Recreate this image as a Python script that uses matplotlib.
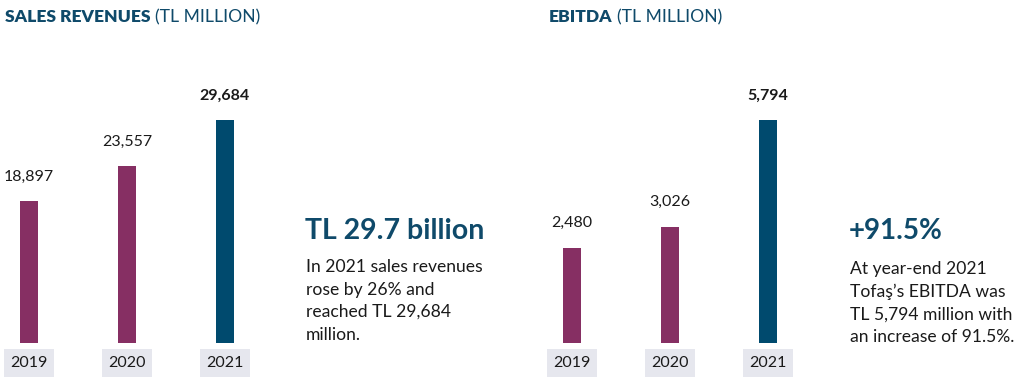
import matplotlib.pyplot as plt

years = ['2019', '2020', '2021']
sales = [18897, 23557, 29684]
ebitda = [2480, 3026, 5794]
sales_labels = ['18,897', '23,557', '29,684']
ebitda_labels = ['2,480', '3,026', '5,794']

PURPLE = '#862f63'
NAVY = '#004a6e'
TITLE = '#0f4a6a'
TXT = '#1a1a1a'
BOXGRAY = '#e6e7ee'

plt.rcParams['font.family'] = ['Lato', 'DejaVu Sans']

W, H = 1033, 378
fig = plt.figure(figsize=(W / 100, H / 100), dpi=100)

STEP = 98.0      # px between bars
BOTTOM = 343.0   # px from top where bars start
TOP_BAR = 120.0  # px from top of highest bar
AX_TOP = 40.0


def panel(x0, values, labels):
    # x0: pixel centre of first bar
    left_px = x0 - 0.4 * STEP
    width_px = 2.8 * STEP
    ax = fig.add_axes([left_px / W, (H - BOTTOM) / H, width_px / W, (BOTTOM - AX_TOP) / H])
    ymax = max(values) * (BOTTOM - AX_TOP) / (BOTTOM - TOP_BAR)
    ax.set_xlim(-0.4, 2.4)
    ax.set_ylim(0, ymax)
    colors = [PURPLE, PURPLE, NAVY]
    ax.bar(range(3), values, width=18 / STEP, color=colors)
    for i, (v, lab) in enumerate(zip(values, labels)):
        ax.annotate(lab, (i, v), xytext=(0, 12.5), textcoords='offset points',
                    ha='center', va='bottom', fontsize=11.5, color=TXT,
                    fontweight='bold' if i == 2 else 'normal')
        ax.annotate(years[i], (i, 0), xytext=(0, -14.5), textcoords='offset points',
                    ha='center', va='center', fontsize=11.5, color=TXT,
                    bbox=dict(boxstyle='square,pad=0.42', fc=BOXGRAY, ec='none'))
    ax.axis('off')
    return ax


def fx(px):
    return px / W


def fy(py):
    return 1 - py / H


panel(29, sales, sales_labels)
panel(572, ebitda, ebitda_labels)

# titles
t = fig.text(fx(5), fy(17), 'SALES REVENUES', fontsize=12.6, fontweight='heavy',
             color=TITLE, va='center', ha='left')
fig.canvas.draw()
bb = t.get_window_extent()
fig.text(bb.x1 / W + 0.004, fy(17), '(TL MILLION)', fontsize=12.6, color=TITLE,
         va='center', ha='left')

t2 = fig.text(fx(549), fy(17), 'EBITDA', fontsize=12.6, fontweight='heavy',
              color=TITLE, va='center', ha='left')
fig.canvas.draw()
bb2 = t2.get_window_extent()
fig.text(bb2.x1 / W + 0.004, fy(17), '(TL MILLION)', fontsize=12.6, color=TITLE,
         va='center', ha='left')

# highlight text
fig.text(fx(305), fy(231), 'TL 29.7 billion', fontsize=20.5, fontweight='bold',
         color=TITLE, va='center', ha='left')
fig.text(fx(306), fy(259), 'In 2021 sales revenues\nrose by 26% and\nreached TL 29,684\nmillion.',
         fontsize=12.6, color=TXT, va='top', ha='left', linespacing=1.5)

fig.text(fx(849), fy(231), '+91.5%', fontsize=20, fontweight='bold',
         color=TITLE, va='center', ha='left')
fig.text(fx(850), fy(261), 'At year-end 2021\nTofaş\u2019s EBITDA was\nTL 5,794 million with\nan increase of 91.5%.',
         fontsize=12.6, color=TXT, va='top', ha='left', linespacing=1.5)

fig.savefig('out.png', dpi=100)
